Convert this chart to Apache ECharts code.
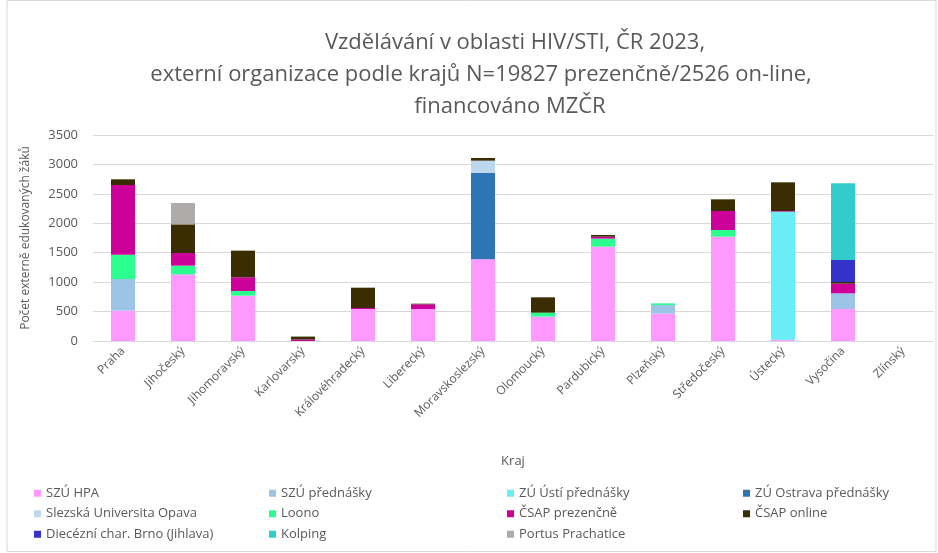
<!DOCTYPE html>
<html lang="cs">
<head>
    <meta charset="utf-8">
    <title>Vzdělávání v oblasti HIV/STI</title>
    <script src="https://cdn.jsdelivr.net/npm/echarts@6/dist/echarts.min.js"></script>
    <style>
    * { margin: 0; padding: 0; }
    #chart-container { width: 938px; height: 553px; }
    </style>
</head>
<body>
    <div id="chart-container"></div>
    <script>
      var kraje = ['Praha', 'Jihočeský', 'Jihomoravský', 'Karlovarský', 'Královéhradecký', 'Liberecký',
          'Moravskoslezský', 'Olomoucký', 'Pardubický', 'Plzeňský', 'Středočeský', 'Ústecký', 'Vysočina', 'Zlínský'];

      // values per region, same order as kraje
      var szuHpa        = [515, 1133, 770, 0, 544, 544, 1387, 413, 1603, 464, 1772, 23, 544, 0];
      var szuPrednasky  = [538, 0, 0, 0, 0, 0, 0, 0, 0, 148, 0, 0, 266, 0];
      var zuUsti        = [0, 0, 0, 0, 0, 0, 0, 0, 0, 0, 0, 2174, 0, 0];
      var zuOstrava     = [0, 0, 0, 0, 0, 0, 1467, 0, 0, 0, 0, 0, 0, 0];
      var slezska       = [0, 0, 0, 0, 0, 0, 210, 0, 0, 0, 0, 0, 0, 0];
      var loono         = [414, 147, 79, 0, 0, 0, 0, 68, 136, 28, 114, 0, 0, 0];
      var csapPrezencne = [1183, 215, 233, 25, 17, 79, 0, 0, 33, 0, 323, 11, 164, 0];
      var csapOnline    = [97, 487, 453, 50, 345, 11, 45, 261, 29, 0, 198, 488, 28, 0];
      var diecezni      = [0, 0, 0, 0, 0, 0, 0, 0, 0, 0, 0, 0, 374, 0];
      var kolping       = [0, 0, 0, 0, 0, 0, 0, 0, 0, 0, 0, 0, 1303, 0];
      var portus        = [0, 362, 0, 0, 0, 0, 0, 0, 0, 0, 0, 0, 0, 0];

      var seriesDefs = [
          ['SZÚ HPA', szuHpa, '#FF99FF'],
          ['SZÚ přednášky', szuPrednasky, '#9DC3E6'],
          ['ZÚ Ústí přednášky', zuUsti, '#6AEEF5'],
          ['ZÚ Ostrava přednášky', zuOstrava, '#2E75B6'],
          ['Slezská Universita Opava', slezska, '#BDD7EE'],
          ['Loono', loono, '#2BFF8E'],
          ['ČSAP prezenčně', csapPrezencne, '#CC0099'],
          ['ČSAP online', csapOnline, '#3B2D02'],
          ['Diecézní char. Brno (Jihlava)', diecezni, '#3333CC'],
          ['Kolping', kolping, '#33CCCC'],
          ['Portus Prachatice', portus, '#AFABAB']
      ];

      var titleLines = [
          'Vzdělávání v oblasti HIV/STI, ČR 2023,',
          'externí organizace podle krajů N=19827 prezenčně/2526 on-line,',
          'financováno MZČR'
      ];

      var font = 'Open Sans';
      var textColor = '#595959';

      // legend laid out in 4 columns like the original (column-wise lists)
      var legendCols = [
          { left: 29, names: ['SZÚ HPA', 'Slezská Universita Opava', 'Diecézní char. Brno (Jihlava)'] },
          { left: 264, names: ['SZÚ přednášky', 'Loono', 'Kolping'] },
          { left: 502, names: ['ZÚ Ústí přednášky', 'ČSAP prezenčně', 'Portus Prachatice'] },
          { left: 738, names: ['ZÚ Ostrava přednášky', 'ČSAP online'] }
      ];

      var myChart = echarts.init(document.getElementById('chart-container'));

      var titleGraphics = titleLines.map(function (t, i) {
          return {
              type: 'text',
              x: [515, 481, 510][i],
              y: [43, 75, 107][i],
              silent: true,
              style: {
                  text: t,
                  fill: textColor,
                  font: '22px "Open Sans"',
                  textAlign: 'center',
                  textVerticalAlign: 'middle'
              }
          };
      });

      myChart.setOption({
          animation: false,
          textStyle: { fontFamily: font },
          graphic: [{
              type: 'rect',
              shape: { x: 7, y: 0.5, width: 929, height: 551 },
              style: { fill: 'none', stroke: '#D9D9D9', lineWidth: 1 },
              silent: true
          }].concat(titleGraphics),
          legend: legendCols.map(function (c) {
              return {
                  left: c.left,
                  top: 481,
                  orient: 'vertical',
                  icon: 'rect',
                  itemWidth: 7,
                  itemHeight: 7,
                  itemGap: 6,
                  textStyle: { fontSize: 13, color: textColor, lineHeight: 14.5 },
                  data: c.names
              };
          }),
          grid: { left: 93, right: 5, top: 135, height: 206 },
          xAxis: {
              type: 'category',
              data: kraje,
              name: 'Kraj',
              nameLocation: 'middle',
              nameGap: 114,
              nameTextStyle: { fontSize: 13, color: textColor },
              axisLine: { lineStyle: { color: '#D9D9D9' } },
              axisTick: { show: false },
              axisLabel: { rotate: 45, fontSize: 12, color: textColor, interval: 0, margin: 8 }
          },
          yAxis: {
              type: 'value',
              min: 0,
              max: 3500,
              interval: 500,
              name: 'Počet externě edukovaných žáků',
              nameLocation: 'middle',
              nameGap: 61,
              nameTextStyle: { fontSize: 12, color: textColor },
              axisLabel: {
                  fontSize: 13, color: textColor, margin: 15,
                  formatter: function (v) { return String(v); }
              },
              splitLine: { lineStyle: { color: '#D9D9D9' } }
          },
          series: seriesDefs.map(function (d) {
              return {
                  name: d[0],
                  type: 'bar',
                  stack: 'total',
                  barWidth: 24,
                  data: d[1],
                  itemStyle: { color: d[2] }
              };
          })
      });
  </script>
</body>
</html>
